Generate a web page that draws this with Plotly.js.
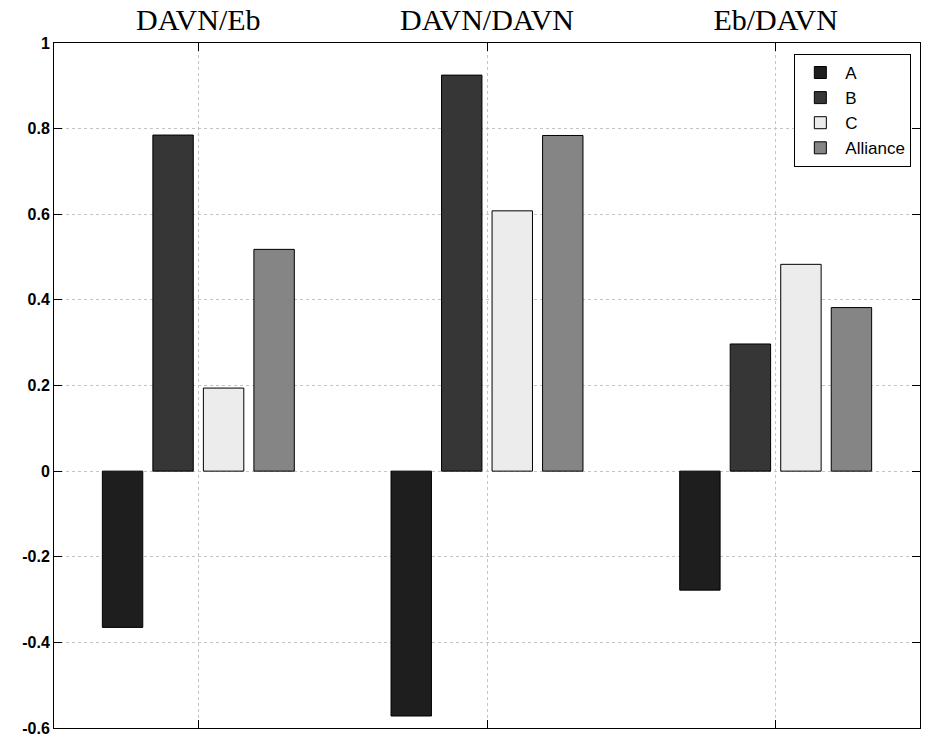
<!DOCTYPE html>
<html>
<head>
<meta charset="utf-8">
<script src="https://cdn.plot.ly/plotly-3.0.1.min.js"></script>
<style>html,body{margin:0;padding:0;background:#fff;}#chart{width:927px;height:738px;}</style>
</head>
<body>
<div id="chart"></div>
<script>
const categories = ["DAVN/Eb", "DAVN/DAVN", "Eb/DAVN"];
const seriesNames = ["A", "B", "C", "Alliance"];
const valuesA = [-0.365, -0.572, -0.278];
const valuesB = [0.785, 0.925, 0.297];
const valuesC = [0.194, 0.608, 0.483];
const valuesAlliance = [0.518, 0.784, 0.382];
const yTickVals = [-0.6, -0.4, -0.2, 0, 0.2, 0.4, 0.6, 0.8, 1];
const yTickText = ["-0.6", "-0.4", "-0.2", "0", "0.2", "0.4", "0.6", "0.8", "1"];

const seriesValues = [valuesA, valuesB, valuesC, valuesAlliance];
const colors = ["#1e1e1e", "#363636", "#ececec", "#858585"];

const traces = seriesNames.map((name, i) => ({
  type: "bar",
  name: name,
  x: categories,
  y: seriesValues[i],
  marker: { color: colors[i], line: { color: "#000", width: 1 } },
  hoverinfo: "x+y+name"
}));

const layout = {
  width: 927,
  height: 738,
  margin: { l: 54, r: 7, t: 43, b: 10 },
  paper_bgcolor: "#fff",
  plot_bgcolor: "#fff",
  barmode: "group",
  bargap: 0.3,
  bargroupgap: 0.2,
  showlegend: true,
  legend: {
    x: 0.99, y: 0.984, xanchor: "right", yanchor: "top",
    bgcolor: "#fff", bordercolor: "#000", borderwidth: 1,
    font: { family: "Liberation Sans, Arial, sans-serif", size: 17, color: "#000" },
    itemwidth: 40,
    tracegroupgap: 0
  },
  xaxis: {
    type: "category",
    side: "top",
    range: [-0.5, 2.5],
    showline: true, linecolor: "#000", linewidth: 1, mirror: "ticks",
    ticks: "inside", ticklen: 8, tickcolor: "#000",
    showgrid: true, gridcolor: "#c4c4c4", griddash: "dot", gridwidth: 1,
    tickfont: { family: "Liberation Serif, serif", size: 30, color: "#000" },
    fixedrange: true
  },
  yaxis: {
    range: [-0.6, 1],
    tickmode: "array",
    tickvals: yTickVals,
    ticktext: yTickText,
    showline: true, linecolor: "#000", linewidth: 1, mirror: "ticks",
    ticks: "inside", ticklen: 8, tickcolor: "#000",
    showgrid: true, gridcolor: "#c4c4c4", griddash: "dot", gridwidth: 1,
    zeroline: false,
    tickfont: { family: "Liberation Sans, Arial, sans-serif", size: 16, color: "#000", weight: "bold" },
    fixedrange: true
  }
};

Plotly.newPlot("chart", traces, layout, { displayModeBar: false, staticPlot: true });
</script>
</body>
</html>
